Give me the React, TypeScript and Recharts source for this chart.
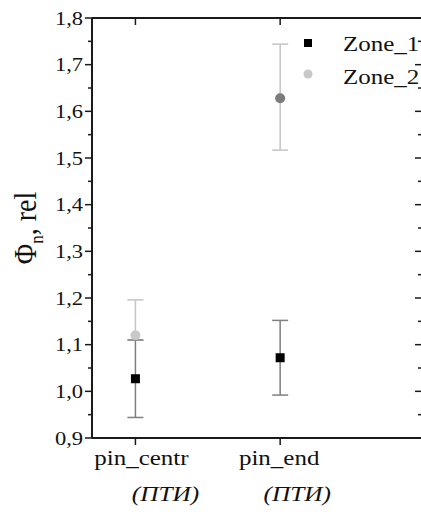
import { ScatterChart, Scatter, XAxis, YAxis, ErrorBar, Legend } from "recharts";

const categories = ["pin_centr", "pin_end"];
const categorySubLabels = ["(ПТИ)", "(ПТИ)"];
const categoryX = [1, 2];

const seriesNames = ["Zone_1", "Zone_2"];
const zone1Values = [1.027, 1.072];
const zone1Errors = [0.083, 0.08];
const zone2Values = [1.12, 1.628];
const zone2Errors = [[0.01, 0.076], [0.111, 0.116]];

const yMajorTicks = [0.9, 1.0, 1.1, 1.2, 1.3, 1.4, 1.5, 1.6, 1.7, 1.8];
const yMinorTicks = [0.95, 1.05, 1.15, 1.25, 1.35, 1.45, 1.55, 1.65, 1.75];

// styling
const FONT = "'Liberation Serif', 'Times New Roman', serif";
const STRETCH = 1.25; // text in the source is widened horizontally
const AXIS = "#1a1a1a";
const zone2Fill = ["#c8c8c8", "#7c7c7c"];
const labelShift = [6, -1];
const subLabelShift = [30, 17];

const zone1 = categoryX.map((x, i) => ({ x, y: zone1Values[i], err: zone1Errors[i] }));
const zone2 = categoryX.map((x, i) => ({ x, y: zone2Values[i], err: zone2Errors[i], fill: zone2Fill[i] }));
const yTicks = [...yMajorTicks, ...yMinorTicks].sort((a, b) => a - b);

const isMajor = (v: number) => Math.round(v * 100) % 10 === 0;
const fmt = (v: number) => v.toFixed(1).replace(".", ",");

const LeftTick = (p: any) => {
  const { x, y, payload } = p;
  const major = isMajor(payload.value);
  const len = major ? 7 : 4;
  return (
    <g>
      <line x1={x} x2={x - len} y1={y} y2={y} stroke={AXIS} strokeWidth={1.5} />
      {major && (
        <text transform={`translate(${x - 9},${y + 6.5}) scale(${STRETCH},1)`} textAnchor="end" fontSize={18} fontFamily={FONT} fill="#111">
          {fmt(payload.value)}
        </text>
      )}
    </g>
  );
};

const RightTick = (p: any) => {
  const { x, y, payload } = p;
  const len = isMajor(payload.value) ? 7 : 4;
  return <line x1={x} x2={x - len} y1={y} y2={y} stroke={AXIS} strokeWidth={1.5} />;
};

const TopTick = (p: any) => {
  const { x, y } = p;
  return <line x1={x} x2={x} y1={y} y2={y + 7} stroke={AXIS} strokeWidth={1.5} />;
};

const BottomTick = (p: any) => {
  const { x, y, index } = p;
  return (
    <g>
      <line x1={x} x2={x} y1={y} y2={y + 7} stroke={AXIS} strokeWidth={1.5} />
      <text transform={`translate(${x + labelShift[index]},${y + 27}) scale(${STRETCH},1)`} textAnchor="middle" fontSize={20} fontFamily={FONT} fill="#111">
        {categories[index]}
      </text>
      <text transform={`translate(${x + subLabelShift[index]},${y + 63}) scale(1.15,1)`} textAnchor="middle" fontSize={22} fontStyle="italic" fontFamily={FONT} fill="#111">
        {categorySubLabels[index]}
      </text>
    </g>
  );
};

const YLabel = (p: any) => {
  const vb = p.viewBox || { y: 18, height: 420 };
  const cy = vb.y + vb.height / 2;
  return (
    <text transform={`translate(36,${cy}) scale(1.15,1) rotate(-90)`} textAnchor="middle" fontSize={28} fontFamily={FONT} fill="#111">
      Φ<tspan dy={6} fontSize={17}>n</tspan>
      <tspan dy={-6}>, rel</tspan>
    </text>
  );
};

const Square = (p: any) => <rect x={p.cx - 4.5} y={p.cy - 4.5} width={9} height={9} fill="#000" />;
const Dot = (p: any) => <circle cx={p.cx} cy={p.cy} r={5} fill={p.payload.fill} />;

const LegendBox = () => (
  <svg width={130} height={70}>
    <rect x={9} y={14} width={8} height={8} fill="#000" />
    <text transform={`translate(48,25.5) scale(${STRETCH},1)`} fontSize={20} fontFamily={FONT} fill="#111">{seriesNames[0]}</text>
    <circle cx={13} cy={49} r={4.5} fill={zone2Fill[0]} />
    <text transform={`translate(48,58.5) scale(${STRETCH},1)`} fontSize={20} fontFamily={FONT} fill="#111">{seriesNames[1]}</text>
  </svg>
);

export default function App() {
  return (
    <div style={{ width: 421, height: 512, overflow: "hidden", background: "#fff" }}>
      <style>{"html,body{margin:0;padding:0;overflow:hidden}"}</style>
      <ScatterChart width={440} height={512} margin={{ top: 16, right: 13, bottom: 14, left: 20 }}>
        <XAxis type="number" dataKey="x" xAxisId="b" domain={[0.7, 2.98]} ticks={categoryX} interval={0} allowDataOverflow
          height={60} tickSize={0} tickMargin={0} tickLine={false} tick={<BottomTick />} axisLine={{ stroke: AXIS, strokeWidth: 2 }} />
        <XAxis type="number" dataKey="x" xAxisId="t" orientation="top" domain={[0.7, 2.98]} ticks={categoryX} interval={0} allowDataOverflow
          height={2} tickSize={0} tickMargin={0} tickLine={false} tick={<TopTick />} axisLine={{ stroke: AXIS, strokeWidth: 2 }} />
        <YAxis type="number" dataKey="y" yAxisId="l" domain={[0.9, 1.8]} ticks={yTicks} interval={0} allowDataOverflow
          width={72} tickSize={0} tickMargin={0} tickLine={false} tick={<LeftTick />} axisLine={{ stroke: AXIS, strokeWidth: 2 }}
          label={{ content: <YLabel /> }} />
        <YAxis type="number" dataKey="y" yAxisId="r" orientation="right" domain={[0.9, 1.8]} ticks={yTicks} interval={0} allowDataOverflow
          width={5} tickSize={0} tickMargin={0} tickLine={false} tick={<RightTick />} axisLine={{ stroke: AXIS, strokeWidth: 2 }} />
        <Legend layout="vertical" align="center" verticalAlign="middle" content={<LegendBox />}
          wrapperStyle={{ position: "absolute", left: 295, top: 25, width: 130, height: 70 }} />
        {/* invisible carrier so the mirror axes (top, right) get their scales */}
        <Scatter data={zone1} xAxisId="t" yAxisId="r" shape={() => <g />} legendType="none" isAnimationActive={false} />
        <Scatter name={seriesNames[1]} data={zone2} xAxisId="b" yAxisId="l" shape={Dot} isAnimationActive={false}>
          <ErrorBar dataKey="err" direction="y" width={8} stroke="#c4c4c4" strokeWidth={1.5} />
        </Scatter>
        <Scatter name={seriesNames[0]} data={zone1} xAxisId="b" yAxisId="l" shape={Square} isAnimationActive={false}>
          <ErrorBar dataKey="err" direction="y" width={8} stroke="#7f7f7f" strokeWidth={1.5} />
        </Scatter>
      </ScatterChart>
    </div>
  );
}
